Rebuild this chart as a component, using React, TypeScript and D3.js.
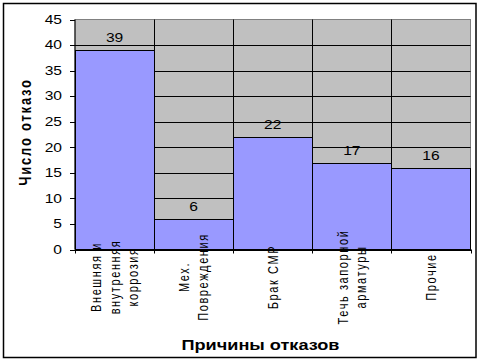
import React from "react";
import * as d3 from "d3";

const categories: string[][] = [
  ["Внешняя и", "внутренняя", "коррозия"],
  ["Мех.", "Повреждения"],
  ["Брак СМР"],
  ["Течь запорной", "арматуры"],
  ["Прочие"],
];
const values: number[] = [39, 6, 22, 17, 16];
const yTicks: number[] = [0, 5, 10, 15, 20, 25, 30, 35, 40, 45];
const yTitle = "Число отказо";
const xTitle = "Причины отказов";

const FONT = "'Liberation Sans', Arial, sans-serif";
const SX = 1.3;

export default function App() {
  const W = 481, H = 361;
  const left = 75, right = 470.5, top = 19.5, bottom = 249.5;
  const keys = categories.map((c, i) => String(i));
  const x = d3.scaleBand<string>().domain(keys).range([left, right]).padding(0);
  const y = d3.scaleLinear().domain([0, 45]).range([bottom, top]);
  const bw = x.bandwidth();

  return (
    <svg
      width={W}
      height={H}
      style={{ position: "absolute", left: 0, top: 0, background: "#fff" }}
      fontFamily={FONT}
    >
      <rect x={0} y={0} width={W} height={H} fill="#fff" />
      {/* plot background */}
      <rect x={left} y={top} width={right - left} height={bottom - top} fill="#C0C0C0" stroke="#808080" strokeWidth={1} />
      {/* horizontal gridlines */}
      {yTicks.filter((t) => t > 0 && t < 45).map((t) => (
        <line key={"g" + t} x1={left} x2={right} y1={Math.round(y(t)) + 0.5} y2={Math.round(y(t)) + 0.5} stroke="#000" strokeWidth={1} />
      ))}
      {/* vertical category gridlines */}
      {keys.slice(1).map((k) => (
        <line key={"v" + k} x1={Math.round(x(k)!) + 0.5} x2={Math.round(x(k)!) + 0.5} y1={top} y2={bottom} stroke="#000" strokeWidth={1} />
      ))}
      {/* bars */}
      {values.map((v, i) => (
        <rect
          key={"b" + i}
          x={Math.round(x(keys[i])!) + 0.5}
          y={Math.round(y(v)) + 0.5}
          width={Math.round(bw)}
          height={Math.round(bottom) - Math.round(y(v))}
          fill="#9999FF"
          stroke="#000"
          strokeWidth={1}
        />
      ))}
      {/* data labels */}
      {values.map((v, i) => (
        <g key={"dl" + i} transform={`translate(${x(keys[i])! + bw / 2},${y(v) - 8}) scale(${SX},1)`}>
          <text textAnchor="middle" fontSize={12} fill="#000">{v}</text>
        </g>
      ))}
      {/* axes */}
      <line x1={left} x2={left} y1={top} y2={bottom} stroke="#000" strokeWidth={1} />
      <line x1={left} x2={right} y1={bottom} y2={bottom} stroke="#000" strokeWidth={1} />
      {yTicks.map((t) => (
        <g key={"yt" + t}>
          <line x1={left - 5} x2={left} y1={Math.round(y(t)) + 0.5} y2={Math.round(y(t)) + 0.5} stroke="#000" />
          <g transform={`translate(62,${y(t) + 4.3}) scale(${SX},1)`}>
            <text textAnchor="end" fontSize={12} fill="#000">{t}</text>
          </g>
        </g>
      ))}
      {keys.concat(["end"]).map((k, i) => {
        const xx = i < keys.length ? x(k)! : right;
        return <line key={"xt" + i} x1={Math.round(xx) + 0.5} x2={Math.round(xx) + 0.5} y1={bottom} y2={bottom + 4} stroke="#000" />;
      })}
      {/* category labels */}
      {categories.map((lines, i) => {
        const cx = x(keys[i])! + bw / 2;
        const n = lines.length;
        return lines.map((ln, j) => (
          <g key={"cl" + i + "-" + j} transform={`translate(${cx + (j - (n - 1) / 2) * 18.5},277) scale(${SX},1) rotate(-90)`}>
            <text textAnchor="middle" dy="0.35em" fontSize={11} letterSpacing={1.6} fill="#000">{ln}</text>
          </g>
        ));
      })}
      {/* axis titles */}
      <g transform={`translate(25,132) scale(${SX},1) rotate(-90)`}>
        <text textAnchor="middle" dy="0.35em" fontSize={13} fontWeight="bold" letterSpacing={1.8} fill="#000">{yTitle}</text>
      </g>
      <g transform={`translate(260.5,350) scale(1.25,1)`}>
        <text textAnchor="middle" fontSize={14.5} fontWeight="bold" fill="#000">{xTitle}</text>
      </g>
      {/* outer border */}
      <rect x={3.5} y={3.5} width={472.5} height={354} fill="none" stroke="#000" strokeWidth={1.5} />
    </svg>
  );
}
